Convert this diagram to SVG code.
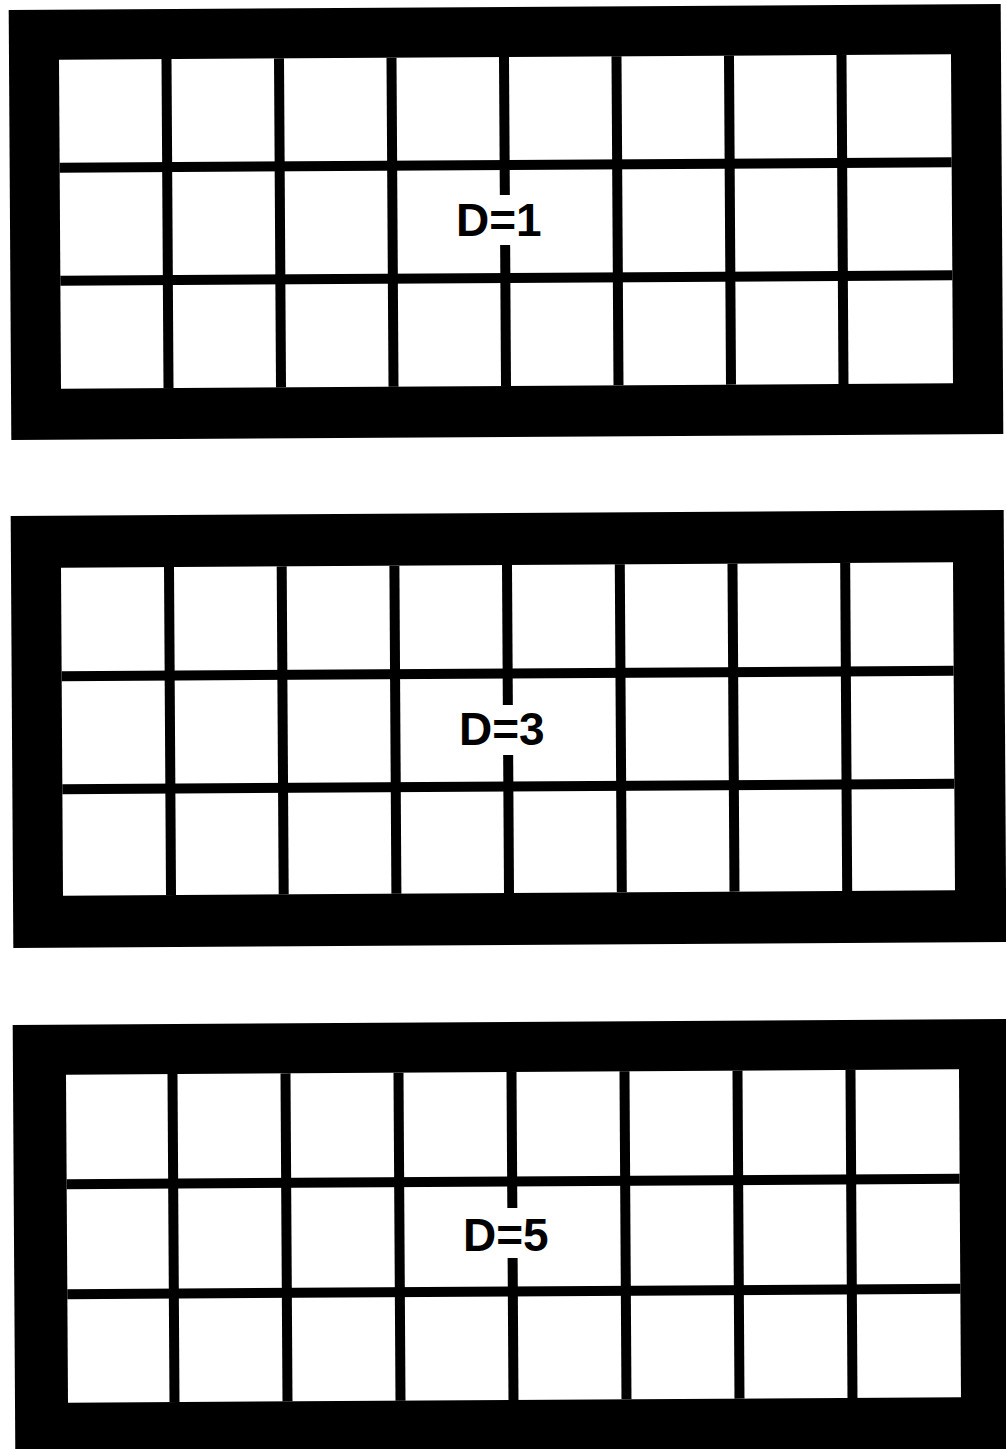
<svg xmlns="http://www.w3.org/2000/svg" width="1006" height="1449" viewBox="0 0 1006 1449">
<style>
.frame{fill:#000}
.inner{fill:#fff}
.bar{fill:#000}
.gap{fill:#fff}
.lbl{font-family:"Liberation Sans",Arial,sans-serif;font-weight:bold;font-size:46px;fill:#000}
</style>
<rect width="1006" height="1449" fill="#fff"/>
<g id="connectors"></g>
<g id="panel-d1">
  <g transform="rotate(-0.35 506 222)">
    <rect class="frame" x="10" y="7" width="992" height="430"/>
    <rect class="inner" x="60" y="57" width="892" height="329"/>
    <rect class="bar" x="60" y="160" width="892" height="10"/>
    <rect class="bar" x="60" y="273" width="892" height="10"/>
    <rect class="bar" x="162.5" y="57" width="10" height="329"/>
    <rect class="bar" x="275" y="57" width="10" height="329"/>
    <rect class="bar" x="387.5" y="57" width="10" height="329"/>
    <rect class="bar" x="500" y="57" width="10" height="329"/>
    <rect class="bar" x="612.5" y="57" width="10" height="329"/>
    <rect class="bar" x="725" y="57" width="10" height="329"/>
    <rect class="bar" x="837.5" y="57" width="10" height="329"/>
  </g>
  <rect class="gap" x="495" y="195" width="20" height="50"/>
  <text class="lbl" x="456" y="236">D=1</text>
</g>
<g id="panel-d3">
  <g transform="rotate(-0.35 508 730)">
    <rect class="frame" x="12" y="513" width="993" height="432"/>
    <rect class="inner" x="62" y="565" width="892" height="328"/>
    <rect class="bar" x="62" y="668.5" width="892" height="10"/>
    <rect class="bar" x="62" y="781.5" width="892" height="10"/>
    <rect class="bar" x="165" y="565" width="10" height="328"/>
    <rect class="bar" x="277.7" y="565" width="10" height="328"/>
    <rect class="bar" x="390.4" y="565" width="10" height="328"/>
    <rect class="bar" x="503" y="565" width="10" height="328"/>
    <rect class="bar" x="615.8" y="565" width="10" height="328"/>
    <rect class="bar" x="728.5" y="565" width="10" height="328"/>
    <rect class="bar" x="841.2" y="565" width="10" height="328"/>
  </g>
  <rect class="gap" x="498" y="705" width="20" height="50"/>
  <text class="lbl" x="459" y="745">D=3</text>
</g>
<g id="panel-d5">
  <g transform="rotate(-0.35 512 1238)">
    <rect class="frame" x="14" y="1022" width="1000" height="440"/>
    <rect class="inner" x="67" y="1072" width="893" height="328"/>
    <rect class="bar" x="67" y="1176.5" width="893" height="10"/>
    <rect class="bar" x="67" y="1286.5" width="893" height="10"/>
    <rect class="bar" x="168.5" y="1072" width="10" height="328"/>
    <rect class="bar" x="281.5" y="1072" width="10" height="328"/>
    <rect class="bar" x="394.5" y="1072" width="10" height="328"/>
    <rect class="bar" x="507.5" y="1072" width="10" height="328"/>
    <rect class="bar" x="620.5" y="1072" width="10" height="328"/>
    <rect class="bar" x="733.5" y="1072" width="10" height="328"/>
    <rect class="bar" x="846.5" y="1072" width="10" height="328"/>
  </g>
  <rect class="gap" x="503" y="1208" width="20" height="50"/>
  <text class="lbl" x="463" y="1251">D=5</text>
</g>
</svg>
